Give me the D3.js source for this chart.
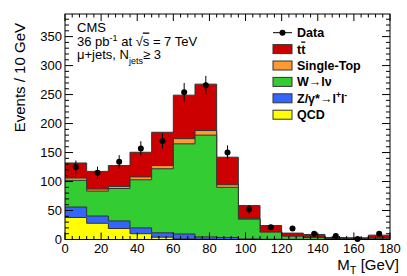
<!DOCTYPE html>
<html>
<head>
<meta charset="utf-8">
<script src="https://cdn.jsdelivr.net/npm/d3@7"></script>
<style>
  body { margin: 0; background: #fff; }
  text { font-family: "Liberation Sans", Arial, sans-serif; }
</style>
</head>
<body>
<div id="container"></div>
<script>
// bin edges in GeV (15 bins)
const binEdges = [0, 12, 24, 36, 48, 60, 72, 84, 96, 108, 120, 132, 144, 156, 168, 180];

// per-bin contributions
const qcd    = [38, 28, 19, 10, 4, 1, 0.5, 0, 0, 0, 0, 0, 0, 0, 0];
const zjets  = [18, 12.5, 13, 10, 7.5, 8.5, 4, 3.5, 1, 0.5, 0.3, 0.2, 0.1, 0.1, 0.1];
const wjets  = [46, 43, 56, 83, 110.5, 155.5, 175.5, 86.5, 34, 12.2, 5.4, 3.3, 1.4, 0.9, 1.9];
const stop   = [4, 3.5, 3.5, 5, 5.5, 9, 8, 4.5, 1.5, 0.8, 0.6, 0.5, 0.5, 0.3, 0.5];
const ttbar  = [26, 30.5, 36, 42.5, 57.5, 75, 80, 47.5, 22, 10.5, 4.7, 4.7, 1.5, 1.7, 5];
const dataCounts = [125, 115, 134, 157, 170, 254, 266, 150, 52, 21, 19, 10, 6, 1, 10];

const xTicks = [0, 20, 40, 60, 80, 100, 120, 140, 160, 180];
const yTicks = [0, 50, 100, 150, 200, 250, 300, 350];

const width = 407;
const height = 276;
const marginLeft = 65;
const marginRight = 17;
const marginTop = 14;
const marginBottom = 36.5;

const svg = d3.select("#container")
  .append("svg")
  .attr("width", width)
  .attr("height", height);

const x = d3.scaleLinear().domain([0, 180]).range([marginLeft, width - marginRight]);
const y = d3.scaleLinear().domain([0, 389]).range([height - marginBottom, marginTop]);

// stack order from bottom to top
const components = [
  { name: "QCD", values: qcd, color: "#ffff00" },
  { name: "Z", values: zjets, color: "#3366ff" },
  { name: "W", values: wjets, color: "#33cc33" },
  { name: "ST", values: stop, color: "#ff9933" },
  { name: "tt", values: ttbar, color: "#cc0000" }
];

// cumulative sums
let running = qcd.map(() => 0);
components.forEach(c => {
  running = running.map((r, i) => r + c.values[i]);
  c.cum = running.slice();
});

svg.append("defs").append("clipPath").attr("id", "plot")
  .append("rect")
  .attr("x", marginLeft).attr("y", marginTop)
  .attr("width", width - marginLeft - marginRight)
  .attr("height", height - marginTop - marginBottom);

const plot = svg.append("g").attr("clip-path", "url(#plot)");

const stepPoints = c => binEdges.map((e, i) => ({ x: e, y: c.cum[Math.min(i, c.cum.length - 1)] }));

const area = d3.area()
  .x(d => x(d.x))
  .y0(y(0))
  .y1(d => y(d.y))
  .curve(d3.curveStepAfter);

const line = d3.line()
  .x(d => x(d.x))
  .y(d => y(d.y))
  .curve(d3.curveStepAfter);

// draw the tallest stack first
components.slice().reverse().forEach(c => {
  const pts = stepPoints(c);
  plot.append("path").attr("d", area(pts)).attr("fill", c.color);
  plot.append("path").attr("d", line(pts))
    .attr("fill", "none")
    .attr("stroke", "#333")
    .attr("stroke-width", 1);
});

// data points with sqrt(N) errors
const centers = dataCounts.map((d, i) => (binEdges[i] + binEdges[i + 1]) / 2);
const pts = svg.append("g");
dataCounts.forEach((d, i) => {
  const err = Math.sqrt(d);
  pts.append("line")
    .attr("x1", x(centers[i])).attr("x2", x(centers[i]))
    .attr("y1", y(d - err)).attr("y2", y(Math.min(d + err, 389)))
    .attr("stroke", "#000").attr("stroke-width", 1);
  pts.append("circle")
    .attr("cx", x(centers[i])).attr("cy", y(d))
    .attr("r", 3).attr("fill", "#000");
});

// frame and ticks
const x0 = x(0), x1 = x(180), y0 = y(0), y1 = y(389);
const axes = svg.append("g").attr("stroke", "#000").attr("stroke-width", 1);
axes.append("rect")
  .attr("x", x0).attr("y", y1)
  .attr("width", x1 - x0).attr("height", y0 - y1)
  .attr("fill", "none");

const xMinor = d3.range(0, 181, 4);
xMinor.forEach(v => {
  const major = v % 20 === 0;
  const len = major ? 7 : 3.5;
  axes.append("line").attr("x1", x(v)).attr("x2", x(v)).attr("y1", y0).attr("y2", y0 - len);
  axes.append("line").attr("x1", x(v)).attr("x2", x(v)).attr("y1", y1).attr("y2", y1 + len);
});
const yMinor = d3.range(0, 389, 10);
yMinor.forEach(v => {
  const major = v % 50 === 0;
  const len = major ? 8 : 4;
  axes.append("line").attr("x1", x0).attr("x2", x0 + len).attr("y1", y(v)).attr("y2", y(v));
  axes.append("line").attr("x1", x1).attr("x2", x1 - len).attr("y1", y(v)).attr("y2", y(v));
});

svg.append("g").selectAll("text").data(xTicks).join("text")
  .attr("x", d => x(d)).attr("y", 253)
  .attr("text-anchor", "middle")
  .attr("font-size", 13)
  .text(d => d);

svg.append("g").selectAll("text").data(yTicks).join("text")
  .attr("x", 62).attr("y", d => y(d) + 4.7)
  .attr("text-anchor", "end")
  .attr("font-size", 13)
  .text(d => d);

// axis titles
svg.append("text")
  .attr("transform", "translate(25,23) rotate(-90)")
  .attr("text-anchor", "end")
  .attr("font-size", 15)
  .text("Events / 10 GeV");

const xt = svg.append("text")
  .attr("x", 399).attr("y", 269.5)
  .attr("text-anchor", "end")
  .attr("font-size", 15);
xt.append("tspan").text("M");
xt.append("tspan").attr("font-size", 11).attr("dy", 4).text("T");
xt.append("tspan").attr("dy", -4).text(" [GeV]");

// CMS label block
svg.append("text").attr("x", 77).attr("y", 31.5).attr("font-size", 13).text("CMS");
const l2 = svg.append("text").attr("x", 77).attr("y", 45.5).attr("font-size", 13);
l2.append("tspan").text("36 pb");
l2.append("tspan").attr("font-size", 9).attr("dy", -5).text("-1");
l2.append("tspan").attr("dy", 5).text(" at \u221A");
l2.append("tspan").attr("text-decoration", "overline").text("s");
l2.append("tspan").text(" = 7 TeV");
const l3 = svg.append("text").attr("x", 77).attr("y", 58.5).attr("font-size", 13);
l3.append("tspan").text("\u03BC+jets, N");
l3.append("tspan").attr("font-size", 9).attr("dy", 5).text("jets");
l3.append("tspan").attr("dy", -5).text("\u2265 3");

// legend
const legendRows = [
  { label: "Data", type: "data" },
  { label: "tt", color: "#cc0000" },
  { label: "Single-Top", color: "#ff9933" },
  { label: "W", color: "#33cc33" },
  { label: "Z", color: "#3366ff" },
  { label: "QCD", color: "#ffff00" }
];
const legend = svg.append("g");
legendRows.forEach((r, i) => {
  const cy = 32.7 + i * 16.4;
  if (r.type === "data") {
    legend.append("line").attr("x1", 273).attr("x2", 292).attr("y1", cy).attr("y2", cy)
      .attr("stroke", "#000");
    legend.append("circle").attr("cx", 282.5).attr("cy", cy).attr("r", 3).attr("fill", "#000");
  } else {
    legend.append("rect").attr("x", 273).attr("y", cy - 4.5).attr("width", 19).attr("height", 9)
      .attr("fill", r.color).attr("stroke", "#333").attr("stroke-width", 1);
  }
  const t = legend.append("text").attr("x", 297).attr("y", cy + 4.4)
    .attr("font-size", 12.5).attr("font-weight", "bold");
  if (r.label === "tt") {
    t.append("tspan").text("t");
    t.append("tspan").attr("text-decoration", "overline").text("t");
  } else if (r.label === "W") {
    t.append("tspan").text("W\u2192l\u03BD");
  } else if (r.label === "Z") {
    t.append("tspan").text("Z/\u03B3*\u2192l");
    t.append("tspan").attr("font-size", 8.5).attr("dy", -4.5).text("+");
    t.append("tspan").attr("dy", 4.5).text("l");
    t.append("tspan").attr("font-size", 8.5).attr("dy", -4.5).text("-");
  } else {
    t.text(r.label);
  }
});
</script>
</body>
</html>
